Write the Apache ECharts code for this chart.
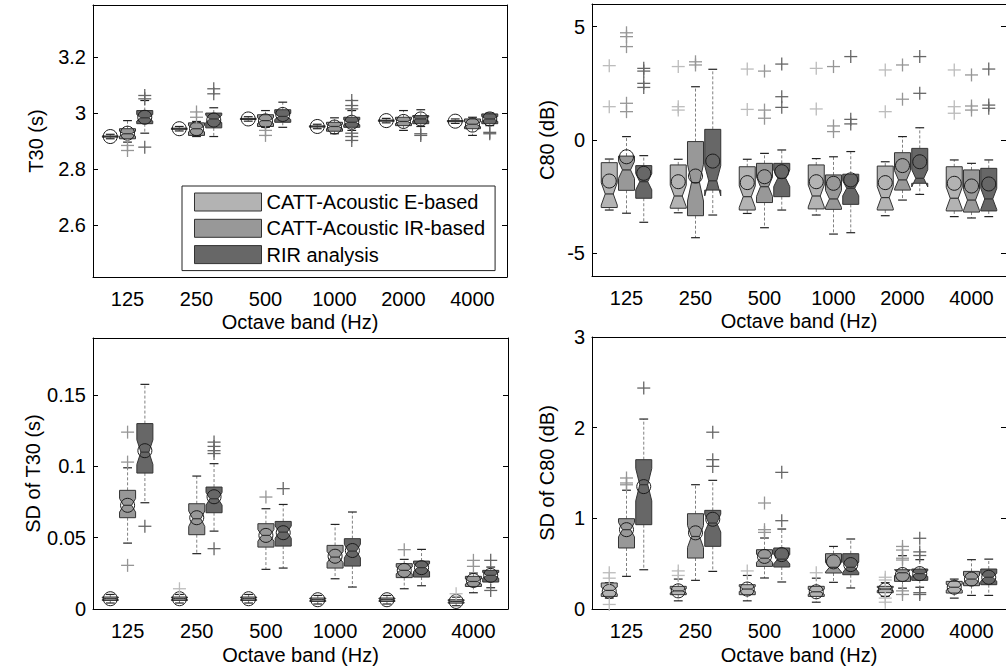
<!DOCTYPE html>
<html>
<head>
<meta charset="utf-8">
<script src="https://cdn.jsdelivr.net/npm/echarts@6/dist/echarts.min.js"></script>
<style>
  html, body { margin: 0; padding: 0; background: #fff; }
  #chart { width: 1006px; height: 672px; }
</style>
</head>
<body>
<div id="chart"></div>
<script>
// Octave bands shown on every x axis
const bands = ['125', '250', '500', '1000', '2000', '4000'];
const methods = ['CATT-Acoustic E-based', 'CATT-Acoustic IR-based', 'RIR analysis'];

// Box rows per band: [low whisker, Q1, median, Q3, high whisker, mean]
const t30E = [
  [2.908, 2.914, 2.916, 2.918, 2.924, 2.916],
  [2.936, 2.942, 2.944, 2.946, 2.952, 2.944],
  [2.971, 2.977, 2.979, 2.981, 2.987, 2.979],
  [2.944, 2.950, 2.952, 2.954, 2.960, 2.952],
  [2.965, 2.971, 2.973, 2.975, 2.981, 2.973],
  [2.963, 2.969, 2.971, 2.973, 2.979, 2.971]
];
const t30IR = [
  [2.896, 2.908, 2.926, 2.944, 2.973, 2.928],
  [2.916, 2.920, 2.944, 2.965, 2.970, 2.944],
  [2.949, 2.952, 2.973, 2.994, 3.009, 2.972],
  [2.926, 2.935, 2.952, 2.967, 2.983, 2.950],
  [2.938, 2.955, 2.970, 2.985, 3.009, 2.970],
  [2.920, 2.944, 2.960, 2.979, 2.985, 2.957]
];
const t30RIR = [
  [2.928, 2.962, 2.983, 3.009, 3.045, 2.985],
  [2.916, 2.947, 2.979, 3.000, 3.019, 2.975],
  [2.949, 2.967, 2.988, 3.012, 3.039, 2.995],
  [2.938, 2.949, 2.967, 2.985, 3.009, 2.967],
  [2.952, 2.962, 2.979, 2.991, 3.012, 2.979],
  [2.955, 2.962, 2.979, 2.997, 3.000, 2.979]
];
// Outliers: [band index, value]
const t30EOut = [];
const t30IROut = [[0, 2.884], [0, 2.866], [1, 3.004], [1, 2.985], [2, 2.938], [2, 2.920]];
const t30RIROut = [[0, 3.063], [0, 3.051], [0, 2.878], [1, 3.087], [1, 3.069],
  [3, 3.045], [3, 3.027], [3, 3.015], [3, 2.928], [3, 2.916], [3, 2.902],
  [4, 2.926], [4, 2.920], [5, 2.931], [5, 2.926]];

const c80E = [
  [-3.09, -2.98, -2.38, -1.00, -0.84, -1.81],
  [-3.21, -3.01, -2.47, -1.10, -0.85, -1.84],
  [-3.24, -3.09, -2.50, -1.18, -0.85, -1.88],
  [-3.31, -3.04, -2.47, -1.10, -0.82, -1.84],
  [-3.34, -3.09, -2.54, -1.15, -0.96, -1.88],
  [-3.38, -3.13, -2.57, -1.18, -0.88, -1.91]
];
const c80IR = [
  [-3.23, -2.22, -1.32, -0.71, 0.15, -0.74],
  [-4.31, -3.34, -1.88, -0.07, 2.35, -1.59],
  [-3.87, -2.76, -2.06, -1.03, -0.59, -1.62],
  [-4.15, -3.06, -2.60, -1.54, -0.74, -1.91],
  [-2.65, -2.21, -1.76, -0.56, 0.15, -1.13],
  [-3.44, -3.18, -2.65, -1.32, -1.03, -2.03]
];
const c80RIR = [
  [-3.63, -2.57, -1.84, -1.13, -0.69, -1.47],
  [-3.31, -2.21, -1.80, 0.47, 3.12, -0.93],
  [-3.09, -2.50, -1.69, -1.03, -0.44, -1.40],
  [-4.09, -2.84, -2.13, -1.51, -0.51, -1.76],
  [-2.40, -1.91, -1.69, -0.37, 0.54, -0.96],
  [-3.38, -3.13, -2.60, -1.25, -0.88, -1.94]
];
const c80EOut = [[0, 3.28], [0, 1.47], [1, 3.24], [1, 1.47], [1, 1.32], [2, 3.13], [2, 1.35],
  [3, 3.16], [3, 1.37], [4, 3.09], [4, 1.25], [5, 3.09], [5, 1.47], [5, 1.18]];
const c80IROut = [[0, 4.73], [0, 4.56], [0, 4.12], [0, 1.62], [0, 1.25], [1, 3.45], [1, 3.31],
  [2, 3.04], [2, 1.32], [2, 0.96], [3, 3.24], [3, 0.62], [3, 0.37], [4, 3.31], [4, 1.80],
  [5, 2.87], [5, 1.50], [5, 1.32]];
const c80RIROut = [[0, 3.16], [0, 3.04], [0, 2.50], [0, 2.32], [2, 3.35], [2, 1.91], [2, 1.44],
  [3, 3.68], [3, 0.91], [3, 0.71], [4, 3.68], [4, 2.06], [5, 3.13], [5, 1.54], [5, 1.40]];

const sdT30E = [
  [0.0042, 0.0060, 0.0072, 0.0084, 0.0102, 0.0072],
  [0.0042, 0.0060, 0.0072, 0.0084, 0.0102, 0.0072],
  [0.0042, 0.0060, 0.0072, 0.0084, 0.0102, 0.0072],
  [0.0035, 0.0053, 0.0065, 0.0077, 0.0095, 0.0065],
  [0.0035, 0.0053, 0.0065, 0.0077, 0.0095, 0.0065],
  [0.0023, 0.0041, 0.0053, 0.0065, 0.0083, 0.0053]
];
const sdT30IR = [
  [0.0462, 0.0640, 0.0727, 0.0832, 0.0990, 0.0727],
  [0.0388, 0.0521, 0.0633, 0.0738, 0.0932, 0.0640],
  [0.0278, 0.0434, 0.0516, 0.0598, 0.0703, 0.0516],
  [0.0212, 0.0287, 0.0364, 0.0446, 0.0593, 0.0370],
  [0.0142, 0.0220, 0.0271, 0.0318, 0.0348, 0.0271],
  [0.0114, 0.0158, 0.0193, 0.0229, 0.0252, 0.0200]
];
const sdT30RIR = [
  [0.0745, 0.0953, 0.1100, 0.1300, 0.1575, 0.1110],
  [0.0546, 0.0675, 0.0773, 0.0855, 0.1019, 0.0787],
  [0.0287, 0.0441, 0.0539, 0.0614, 0.0733, 0.0535],
  [0.0154, 0.0301, 0.0406, 0.0493, 0.0680, 0.0410],
  [0.0163, 0.0224, 0.0290, 0.0336, 0.0418, 0.0290],
  [0.0149, 0.0189, 0.0236, 0.0271, 0.0294, 0.0236]
];
const sdT30EOut = [[1, 0.0142], [5, 0.0107]];
const sdT30IROut = [[0, 0.124], [0, 0.103], [0, 0.0306], [2, 0.0785], [4, 0.0416], [5, 0.0341], [5, 0.0299]];
const sdT30RIROut = [[0, 0.058], [1, 0.117], [1, 0.114], [1, 0.111], [1, 0.109], [1, 0.0423],
  [2, 0.0844], [5, 0.0341], [5, 0.013]];

const sdC80E = [
  [0.12, 0.139, 0.205, 0.287, 0.29, 0.194],
  [0.09, 0.158, 0.200, 0.250, 0.33, 0.200],
  [0.09, 0.158, 0.220, 0.268, 0.37, 0.220],
  [0.075, 0.139, 0.190, 0.250, 0.34, 0.190],
  [0.14, 0.180, 0.220, 0.250, 0.29, 0.210],
  [0.12, 0.176, 0.240, 0.305, 0.33, 0.240]
];
const sdC80IR = [
  [0.360, 0.673, 0.875, 0.996, 1.310, 0.875],
  [0.316, 0.562, 0.800, 1.051, 1.371, 0.840],
  [0.342, 0.470, 0.560, 0.654, 0.783, 0.580],
  [0.294, 0.397, 0.460, 0.610, 0.690, 0.520],
  [0.230, 0.305, 0.400, 0.433, 0.588, 0.380],
  [0.150, 0.257, 0.330, 0.415, 0.544, 0.330]
];
const sdC80RIR = [
  [0.433, 0.930, 1.371, 1.647, 2.095, 1.350],
  [0.415, 0.691, 0.948, 1.088, 1.419, 0.990],
  [0.298, 0.463, 0.550, 0.673, 0.882, 0.600],
  [0.232, 0.378, 0.460, 0.610, 0.772, 0.490],
  [0.240, 0.316, 0.390, 0.441, 0.544, 0.390],
  [0.150, 0.268, 0.350, 0.441, 0.550, 0.350]
];
const sdC80EOut = [[0, 0.40], [0, 0.34], [0, 0.05], [1, 0.42], [1, 0.37], [2, 0.42], [3, 0.40],
  [4, 0.35], [4, 0.32], [4, 0.12], [4, 0.075]];
const sdC80IROut = [[0, 1.445], [0, 1.39], [0, 1.37], [2, 1.169], [2, 0.875], [2, 0.845],
  [4, 0.69], [4, 0.65], [4, 0.56], [4, 0.54], [4, 0.20], [4, 0.16]];
const sdC80RIROut = [[0, 2.437], [1, 1.95], [1, 1.647], [1, 1.573], [2, 1.507], [2, 0.974],
  [4, 0.78], [4, 0.63], [4, 0.59], [4, 0.18], [4, 0.16]];

// Y axis tick values per panel
const t30Ticks = [2.6, 2.8, 3, 3.2];
const c80Ticks = [-5, 0, 5];
const sdT30Ticks = [0, 0.05, 0.1, 0.15];
const sdC80Ticks = [0, 1, 2, 3];

const fills = ['#b3b3b3', '#989898', '#676767'];
const plusColors = ['#bcbcbc', '#969696', '#666666'];
const offsets = [-0.25, 0, 0.25];   // position inside a band, in band widths
const notchN = 40;                  // sample count behind each box (notch height)
const FONT = '"Liberation Sans", Arial, Helvetica, sans-serif';

const panels = [
  { grid: { left: 93, top: 5, width: 414, height: 272 }, min: 2.413, max: 3.387, ticks: t30Ticks,
    name: 'T30 (s)', nameGap: 47, boxes: [t30E, t30IR, t30RIR], outs: [t30EOut, t30IROut, t30RIROut] },
  { grid: { left: 592, top: 4, width: 418, height: 272 }, min: -6, max: 6, ticks: c80Ticks,
    name: 'C80 (dB)', nameGap: 35, boxes: [c80E, c80IR, c80RIR], outs: [c80EOut, c80IROut, c80RIROut] },
  { grid: { left: 93, top: 338, width: 415, height: 271 }, min: 0, max: 0.19, ticks: sdT30Ticks,
    name: 'SD of T30 (s)', nameGap: 47, boxes: [sdT30E, sdT30IR, sdT30RIR], outs: [sdT30EOut, sdT30IROut, sdT30RIROut] },
  { grid: { left: 592, top: 337, width: 418, height: 272 }, min: 0, max: 3, ticks: sdC80Ticks,
    name: 'SD of C80 (dB)', nameGap: 35, boxes: [sdC80E, sdC80IR, sdC80RIR], outs: [sdC80EOut, sdC80IROut, sdC80RIROut] }
];

function boxRenderer(offset) {
  return function (params, api) {
    const cat = api.value(0);
    const band = api.size([1, 0])[0];
    const cx = api.coord([cat, 0])[0] + offset * band;
    const Y = v => api.coord([cat, v])[1];
    const lo = api.value(1), q1 = api.value(2), med = api.value(3),
          q3 = api.value(4), hi = api.value(5), mean = api.value(6);
    const h = band * 0.116;
    const nh = 1.57 * (q3 - q1) / Math.sqrt(notchN);
    const nlo = med - nh, nhi = med + nh;
    const fill = api.visual('color');
    const pts = [
      [cx - h, Y(q1)], [cx - h, Y(nlo)], [cx - h / 2, Y(med)], [cx - h, Y(nhi)], [cx - h, Y(q3)],
      [cx + h, Y(q3)], [cx + h, Y(nhi)], [cx + h / 2, Y(med)], [cx + h, Y(nlo)], [cx + h, Y(q1)]
    ];
    const whisk = { stroke: '#808080', lineWidth: 1, lineDash: [3, 2] };
    const cap = { stroke: '#222', lineWidth: 1.2 };
    const ch = h * 0.55;
    return {
      type: 'group',
      children: [
        { type: 'line', shape: { x1: cx, y1: Y(q3), x2: cx, y2: Y(hi) }, style: whisk },
        { type: 'line', shape: { x1: cx, y1: Y(q1), x2: cx, y2: Y(lo) }, style: whisk },
        { type: 'line', shape: { x1: cx - ch, y1: Y(hi), x2: cx + ch, y2: Y(hi) }, style: cap },
        { type: 'line', shape: { x1: cx - ch, y1: Y(lo), x2: cx + ch, y2: Y(lo) }, style: cap },
        { type: 'polygon', shape: { points: pts }, style: { fill: fill, stroke: '#333', lineWidth: 1 } },
        { type: 'line', shape: { x1: cx - h / 2, y1: Y(med), x2: cx + h / 2, y2: Y(med) }, style: { stroke: '#333', lineWidth: 1.2 } },
        { type: 'circle', shape: { cx: cx, cy: Y(mean), r: 7 }, style: { fill: 'none', stroke: '#1a1a1a', lineWidth: 1 } }
      ]
    };
  };
}

function plusRenderer(offset, color) {
  return function (params, api) {
    const cat = api.value(0);
    const band = api.size([1, 0])[0];
    const p = api.coord([cat, api.value(1)]);
    const x = p[0] + offset * band, y = p[1];
    const s = { stroke: color, lineWidth: 1.3 };
    return {
      type: 'group',
      children: [
        { type: 'line', shape: { x1: x - 6.5, y1: y, x2: x + 6.5, y2: y }, style: s },
        { type: 'line', shape: { x1: x, y1: y - 6.5, x2: x, y2: y + 6.5 }, style: s }
      ]
    };
  };
}

const grid = [], xAxis = [], yAxis = [], series = [];
const axisLine = { show: true, onZero: false, lineStyle: { color: '#000', width: 1 } };
const label = { color: '#000', fontSize: 20, fontFamily: FONT };

panels.forEach((p, gi) => {
  grid.push(p.grid);
  const bottom = gi >= 2;
  xAxis.push({
    type: 'category', gridIndex: gi, data: bands, position: 'bottom',
    axisLine: axisLine, axisTick: { inside: true, length: 5, alignWithLabel: true, lineStyle: { color: '#000' } },
    axisLabel: Object.assign({ margin: 12, interval: 0 }, label),
    name: 'Octave band (Hz)', nameLocation: 'middle', nameGap: bottom ? 36 : 35,
    nameTextStyle: { color: '#000', fontSize: 20, fontFamily: FONT },
    splitLine: { show: false }
  });
  xAxis.push({
    type: 'category', gridIndex: gi, data: bands, position: 'top',
    axisLine: axisLine, axisTick: { inside: true, length: 5, alignWithLabel: true, lineStyle: { color: '#000' } },
    axisLabel: { show: false }, splitLine: { show: false }
  });
  yAxis.push({
    type: 'value', gridIndex: gi, min: p.min, max: p.max, position: 'left',
    axisLine: axisLine,
    axisTick: { show: true, inside: true, length: 5, customValues: p.ticks, lineStyle: { color: '#000' } },
    axisLabel: Object.assign({ margin: 7, customValues: p.ticks }, label),
    name: p.name, nameLocation: 'middle', nameGap: p.nameGap,
    nameTextStyle: { color: '#000', fontSize: 20, fontFamily: FONT },
    splitLine: { show: false }
  });
  yAxis.push({
    type: 'value', gridIndex: gi, min: p.min, max: p.max, position: 'right',
    axisLine: axisLine,
    axisTick: { show: true, inside: true, length: 5, customValues: p.ticks, lineStyle: { color: '#000' } },
    axisLabel: { show: false }, splitLine: { show: false }
  });

  p.boxes.forEach((rows, si) => {
    series.push({
      type: 'custom', name: methods[si], xAxisIndex: gi * 2, yAxisIndex: gi * 2,
      itemStyle: { color: fills[si] },
      renderItem: boxRenderer(offsets[si]),
      encode: { x: 0, y: [1, 5] },
      data: rows.map((r, i) => [i].concat(r)),
      z: 2
    });
  });
  p.outs.forEach((pts, si) => {
    series.push({
      type: 'custom', name: methods[si], xAxisIndex: gi * 2, yAxisIndex: gi * 2,
      itemStyle: { color: fills[si] },
      renderItem: plusRenderer(offsets[si], plusColors[si]),
      encode: { x: 0, y: 1 },
      data: pts,
      z: 3
    });
  });
});

const chart = echarts.init(document.getElementById('chart'), null, { renderer: 'svg' });
chart.setOption({
  animation: false,
  backgroundColor: '#fff',
  grid: grid,
  xAxis: xAxis,
  yAxis: yAxis,
  legend: {
    data: methods, orient: 'vertical', left: 182, top: 186,
    padding: [6, 10, 6, 12], itemGap: 6.3, itemWidth: 67, itemHeight: 18,
    icon: 'rect', selectedMode: false,
    backgroundColor: '#fff', borderColor: '#222', borderWidth: 1,
    itemStyle: { borderColor: '#333', borderWidth: 1 },
    textStyle: { color: '#000', fontSize: 20, fontFamily: FONT }
  },
  series: series
});
</script>
</body>
</html>
